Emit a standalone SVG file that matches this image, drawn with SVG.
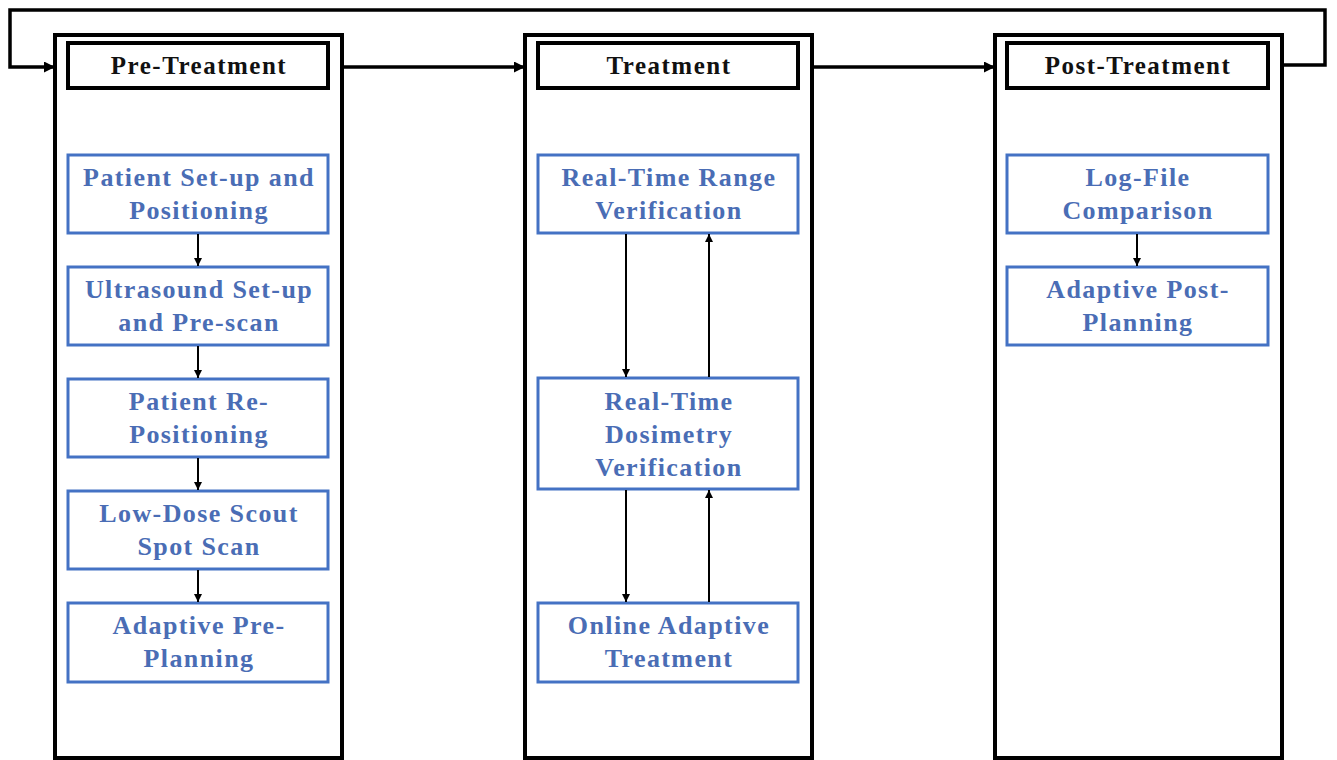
<svg xmlns="http://www.w3.org/2000/svg" width="1337" height="760" viewBox="0 0 1337 760">
<defs>
<marker id="ah" viewBox="0 0 10 10" refX="10" refY="5" markerWidth="11" markerHeight="11" markerUnits="userSpaceOnUse" orient="auto">
<path d="M0,0 L10,5 L0,10 z" fill="#000"/>
</marker>
<marker id="ahs" viewBox="0 0 10 10" refX="10" refY="5" markerWidth="8" markerHeight="8" markerUnits="userSpaceOnUse" orient="auto">
<path d="M0,0 L10,5 L0,10 z" fill="#000"/>
</marker>
</defs>
<style>
.col{fill:#fff;stroke:#000;stroke-width:4}
.hdr{fill:#fff;stroke:#000;stroke-width:4}
.box{fill:#fff;stroke:#4472C4;stroke-width:3}
.ht{font-family:"Liberation Serif",serif;font-weight:bold;font-size:25px;letter-spacing:1.5px;fill:#111;text-anchor:middle}
.bt{font-family:"Liberation Serif",serif;font-weight:bold;font-size:26px;letter-spacing:1.4px;fill:#4a6db5;text-anchor:middle}
.ln{fill:none;stroke:#000;stroke-width:3.5}
.sl{fill:none;stroke:#000;stroke-width:2}
</style>
<rect width="1337" height="760" fill="#fff"/>
<g id="connectors">
<path class="ln" d="M1282,65 H1325 V10 H10 V67 H55" marker-end="url(#ah)"/>
<path class="ln" d="M342,67 H525" marker-end="url(#ah)"/>
<path class="ln" d="M812,67 H995" marker-end="url(#ah)"/>
</g>
<g id="col-pre">
<rect class="col" x="55" y="35" width="287" height="723"/>
<rect class="hdr" x="68" y="43" width="260" height="45"/>
<text class="ht" x="199" y="74">Pre-Treatment</text>
</g>
<g id="col-treat">
<rect class="col" x="525" y="35" width="287" height="723"/>
<rect class="hdr" x="538" y="43" width="260" height="45"/>
<text class="ht" x="669" y="74">Treatment</text>
</g>
<g id="col-post">
<rect class="col" x="995" y="35" width="287" height="723"/>
<rect class="hdr" x="1007" y="43" width="261" height="45"/>
<text class="ht" x="1138" y="74">Post-Treatment</text>
</g>
<g id="pre-1"><rect class="box" x="68" y="155" width="260" height="78"/><text class="bt" x="199" y="186">Patient Set-up and</text><text class="bt" x="199" y="219">Positioning</text></g>
<g id="pre-2"><rect class="box" x="68" y="267" width="260" height="78"/><text class="bt" x="199" y="298">Ultrasound Set-up</text><text class="bt" x="199" y="331">and Pre-scan</text></g>
<g id="pre-3"><rect class="box" x="68" y="379" width="260" height="78"/><text class="bt" x="199" y="410">Patient Re-</text><text class="bt" x="199" y="443">Positioning</text></g>
<g id="pre-4"><rect class="box" x="68" y="491" width="260" height="78"/><text class="bt" x="199" y="522">Low-Dose Scout</text><text class="bt" x="199" y="555">Spot Scan</text></g>
<g id="pre-5"><rect class="box" x="68" y="603" width="260" height="79"/><text class="bt" x="199" y="634">Adaptive Pre-</text><text class="bt" x="199" y="667">Planning</text></g>
<g id="tr-1"><rect class="box" x="538" y="155" width="260" height="78"/><text class="bt" x="669" y="186">Real-Time Range</text><text class="bt" x="669" y="219">Verification</text></g>
<g id="tr-2"><rect class="box" x="538" y="378" width="260" height="111"/><text class="bt" x="669" y="410">Real-Time</text><text class="bt" x="669" y="443">Dosimetry</text><text class="bt" x="669" y="476">Verification</text></g>
<g id="tr-3"><rect class="box" x="538" y="603" width="260" height="79"/><text class="bt" x="669" y="634">Online Adaptive</text><text class="bt" x="669" y="667">Treatment</text></g>
<g id="po-1"><rect class="box" x="1007" y="155" width="261" height="78"/><text class="bt" x="1138" y="186">Log-File</text><text class="bt" x="1138" y="219">Comparison</text></g>
<g id="po-2"><rect class="box" x="1007" y="267" width="261" height="78"/><text class="bt" x="1138" y="298">Adaptive Post-</text><text class="bt" x="1138" y="331">Planning</text></g>
<g id="inner-connectors">
<path class="sl" d="M198,234 V266" marker-end="url(#ahs)"/>
<path class="sl" d="M198,346 V378" marker-end="url(#ahs)"/>
<path class="sl" d="M198,458 V490" marker-end="url(#ahs)"/>
<path class="sl" d="M198,570 V602" marker-end="url(#ahs)"/>
<path class="sl" d="M626,234 V377" marker-end="url(#ahs)"/>
<path class="sl" d="M709,377 V234" marker-end="url(#ahs)"/>
<path class="sl" d="M626,490 V602" marker-end="url(#ahs)"/>
<path class="sl" d="M709,602 V490" marker-end="url(#ahs)"/>
<path class="sl" d="M1137,234 V266" marker-end="url(#ahs)"/>
</g>
</svg>
